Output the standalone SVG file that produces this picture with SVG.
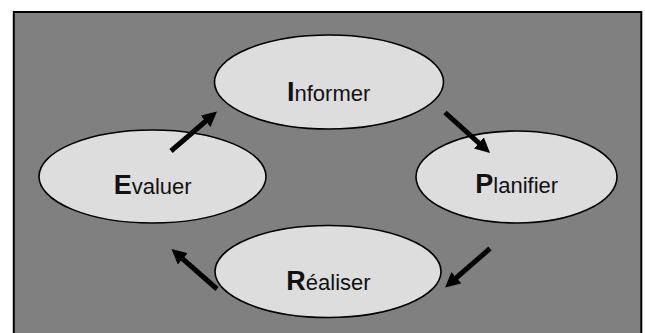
<svg xmlns="http://www.w3.org/2000/svg" width="645" height="333" viewBox="0 0 645 333">
<style>
.node{fill:#dddddd;stroke:#000;stroke-width:1.6}
.lbl{font-family:"Liberation Sans",Arial,sans-serif;fill:#111;font-size:22px}
.cap{font-weight:bold;font-size:27px}
.conn{stroke:#000;stroke-width:5;fill:none;marker-end:url(#ah)}
</style>
<defs>
<marker id="ah" markerUnits="userSpaceOnUse" markerWidth="16" markerHeight="15" viewBox="0 0 16 15" refX="5" refY="7.5" orient="auto">
<path d="M0,0 L15,7.5 L0,15 z" fill="#000"/>
</marker>
</defs>
<rect width="645" height="333" fill="#fff"/>
<rect x="13.8" y="12" width="627.5" height="340" fill="#808080" stroke="#000" stroke-width="2"/>
<g id="informer">
<ellipse class="node" cx="329" cy="82" rx="114.5" ry="47"/>
<text class="lbl" x="287" y="100.5"><tspan class="cap">I</tspan>nformer</text>
</g>
<g id="evaluer">
<ellipse class="node" cx="152.5" cy="176.5" rx="113.5" ry="46.5"/>
<text class="lbl" x="113.7" y="193.5"><tspan class="cap">E</tspan>valuer</text>
</g>
<g id="planifier">
<ellipse class="node" cx="516.5" cy="177" rx="100.5" ry="46"/>
<text class="lbl" x="475.3" y="193.3"><tspan class="cap">P</tspan>lanifier</text>
</g>
<g id="realiser">
<ellipse class="node" cx="328" cy="271.5" rx="113" ry="46"/>
<text class="lbl" x="286.3" y="290"><tspan class="cap">R</tspan>éaliser</text>
</g>
<g id="connectors">
<line class="conn" x1="171" y1="151" x2="209.4" y2="118"/>
<line class="conn" x1="445" y1="112.5" x2="482.6" y2="146.3"/>
<line class="conn" x1="490" y1="248.5" x2="452.6" y2="281"/>
<line class="conn" x1="217" y1="289" x2="179" y2="255.6"/>
</g>
</svg>
